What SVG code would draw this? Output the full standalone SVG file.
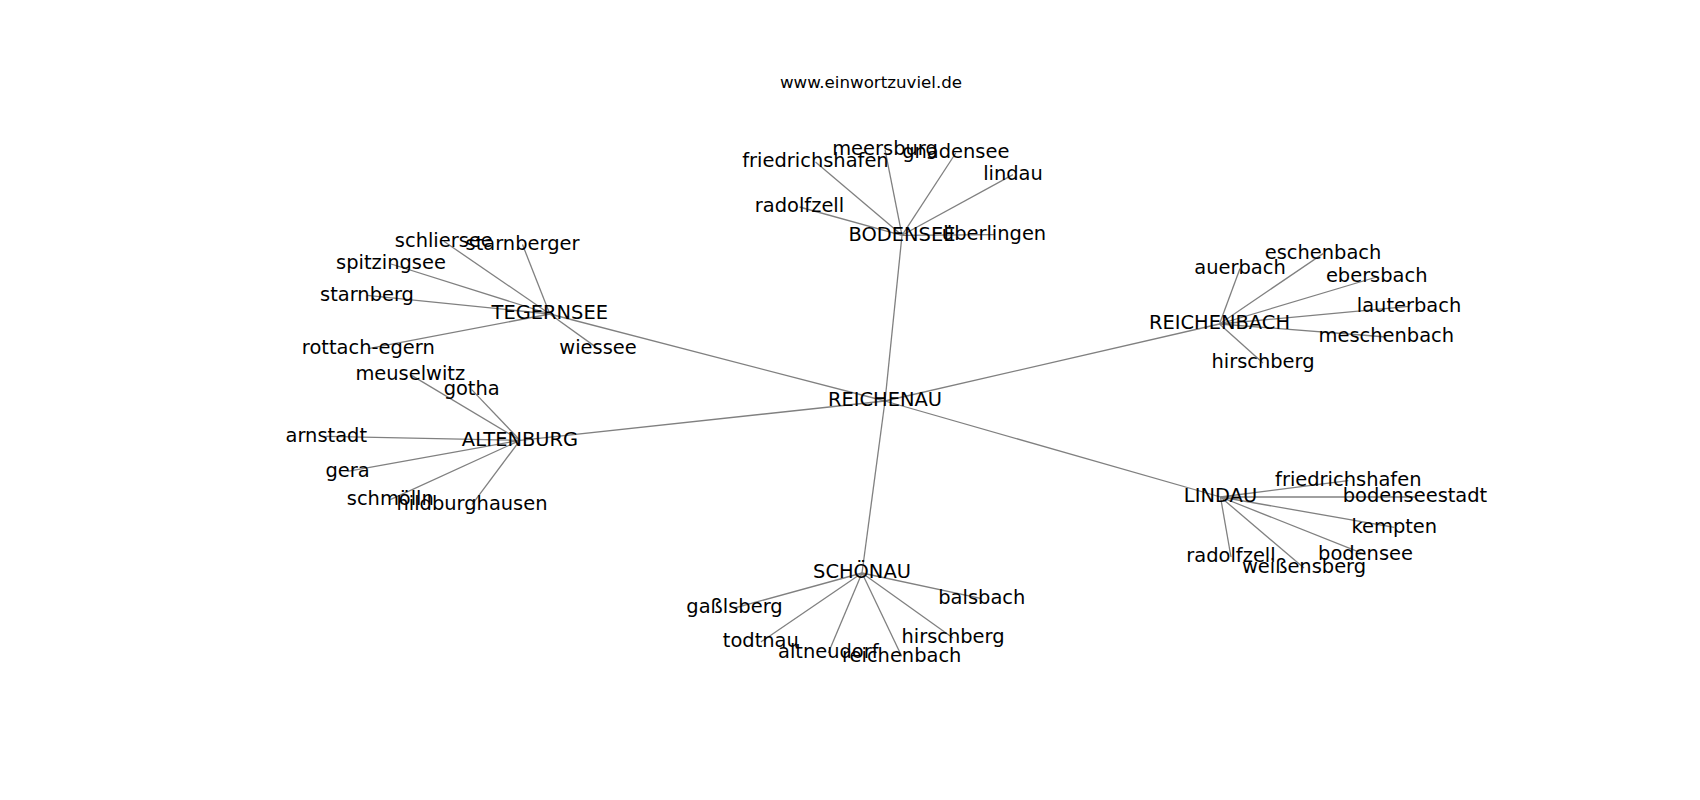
<svg xmlns="http://www.w3.org/2000/svg" width="1700" height="800" viewBox="0 0 1700 800">
<style>
.bg{fill:#ffffff}
.e line{stroke:#808080;stroke-width:1.3;fill:none}
.n text{font-family:"DejaVu Sans","Liberation Sans",sans-serif;font-size:19.44px;fill:#000000;text-anchor:middle}
.title{font-family:"DejaVu Sans","Liberation Sans",sans-serif;font-size:16.67px;fill:#000000;text-anchor:middle}
</style>
<rect class="bg" x="0" y="0" width="1700" height="800"/>
<text class="title" x="871" y="87.7">www.einwortzuviel.de</text>
<g id="connectors" class="e">
<line x1="885" y1="401" x2="902" y2="235.3"/>
<line x1="885" y1="401" x2="549.8" y2="314"/>
<line x1="885" y1="401" x2="520" y2="440.3"/>
<line x1="885" y1="401" x2="1219.5" y2="324"/>
<line x1="885" y1="401" x2="1220.5" y2="497"/>
<line x1="885" y1="401" x2="862" y2="573"/>
<line x1="902" y1="235.3" x2="815.5" y2="162"/>
<line x1="902" y1="235.3" x2="885" y2="149.6"/>
<line x1="902" y1="235.3" x2="955.8" y2="153"/>
<line x1="902" y1="235.3" x2="1013" y2="174.6"/>
<line x1="902" y1="235.3" x2="799.5" y2="207"/>
<line x1="902" y1="235.3" x2="994" y2="234.6"/>
<line x1="549.8" y1="314" x2="443.8" y2="241.3"/>
<line x1="549.8" y1="314" x2="522.5" y2="244.6"/>
<line x1="549.8" y1="314" x2="391" y2="264"/>
<line x1="549.8" y1="314" x2="367" y2="295.3"/>
<line x1="549.8" y1="314" x2="368.3" y2="348.6"/>
<line x1="549.8" y1="314" x2="598" y2="348.6"/>
<line x1="520" y1="440.3" x2="410.3" y2="374.6"/>
<line x1="520" y1="440.3" x2="471.7" y2="389.6"/>
<line x1="520" y1="440.3" x2="326.3" y2="436.3"/>
<line x1="520" y1="440.3" x2="347.5" y2="471.3"/>
<line x1="520" y1="440.3" x2="390.3" y2="499.6"/>
<line x1="520" y1="440.3" x2="472" y2="504.6"/>
<line x1="1219.5" y1="324" x2="1323" y2="253.6"/>
<line x1="1219.5" y1="324" x2="1240" y2="268.6"/>
<line x1="1219.5" y1="324" x2="1376.7" y2="277"/>
<line x1="1219.5" y1="324" x2="1409" y2="306.3"/>
<line x1="1219.5" y1="324" x2="1386.3" y2="337"/>
<line x1="1219.5" y1="324" x2="1263" y2="363"/>
<line x1="1220.5" y1="497" x2="1348.3" y2="480.6"/>
<line x1="1220.5" y1="497" x2="1415" y2="497"/>
<line x1="1220.5" y1="497" x2="1394.3" y2="527.3"/>
<line x1="1220.5" y1="497" x2="1365.5" y2="554.6"/>
<line x1="1220.5" y1="497" x2="1231" y2="557"/>
<line x1="1220.5" y1="497" x2="1304" y2="568"/>
<line x1="862" y1="573" x2="734.5" y2="608"/>
<line x1="862" y1="573" x2="760.8" y2="642"/>
<line x1="862" y1="573" x2="828.3" y2="653"/>
<line x1="862" y1="573" x2="901.7" y2="656.3"/>
<line x1="862" y1="573" x2="953" y2="638"/>
<line x1="862" y1="573" x2="981.8" y2="598.6"/>
</g>
<g class="n">
<g id="reichenau"><text x="885" y="406.4">REICHENAU</text></g>
<g id="bodensee"><text x="902" y="240.7">BODENSEE</text></g>
<g id="tegernsee"><text x="549.8" y="319.4">TEGERNSEE</text></g>
<g id="altenburg"><text x="520" y="445.7">ALTENBURG</text></g>
<g id="reichenbach"><text x="1219.5" y="329.4">REICHENBACH</text></g>
<g id="lindau"><text x="1220.5" y="502.4">LINDAU</text></g>
<g id="schoenau"><text x="862" y="578.4">SCHÖNAU</text></g>
<g id="bo-friedrichshafen"><text x="815.5" y="167.4">friedrichshafen</text></g>
<g id="bo-meersburg"><text x="885" y="155">meersburg</text></g>
<g id="bo-gnadensee"><text x="955.8" y="158.4">gnadensee</text></g>
<g id="bo-lindau"><text x="1013" y="180">lindau</text></g>
<g id="bo-radolfzell"><text x="799.5" y="212.4">radolfzell</text></g>
<g id="bo-ueberlingen"><text x="994" y="240">überlingen</text></g>
<g id="te-schliersee"><text x="443.8" y="246.7">schliersee</text></g>
<g id="te-starnberger"><text x="522.5" y="250">starnberger</text></g>
<g id="te-spitzingsee"><text x="391" y="269.4">spitzingsee</text></g>
<g id="te-starnberg"><text x="367" y="300.7">starnberg</text></g>
<g id="te-rottach-egern"><text x="368.3" y="354">rottach-egern</text></g>
<g id="te-wiessee"><text x="598" y="354">wiessee</text></g>
<g id="al-meuselwitz"><text x="410.3" y="380">meuselwitz</text></g>
<g id="al-gotha"><text x="471.7" y="395">gotha</text></g>
<g id="al-arnstadt"><text x="326.3" y="441.7">arnstadt</text></g>
<g id="al-gera"><text x="347.5" y="476.7">gera</text></g>
<g id="al-schmoelln"><text x="390.3" y="505">schmölln</text></g>
<g id="al-hildburghausen"><text x="472" y="510">hildburghausen</text></g>
<g id="rb-eschenbach"><text x="1323" y="259">eschenbach</text></g>
<g id="rb-auerbach"><text x="1240" y="274">auerbach</text></g>
<g id="rb-ebersbach"><text x="1376.7" y="282.4">ebersbach</text></g>
<g id="rb-lauterbach"><text x="1409" y="311.7">lauterbach</text></g>
<g id="rb-meschenbach"><text x="1386.3" y="342.4">meschenbach</text></g>
<g id="rb-hirschberg"><text x="1263" y="368.4">hirschberg</text></g>
<g id="li-friedrichshafen"><text x="1348.3" y="486">friedrichshafen</text></g>
<g id="li-bodenseestadt"><text x="1415" y="502.4">bodenseestadt</text></g>
<g id="li-kempten"><text x="1394.3" y="532.7">kempten</text></g>
<g id="li-bodensee"><text x="1365.5" y="560">bodensee</text></g>
<g id="li-radolfzell"><text x="1231" y="562.4">radolfzell</text></g>
<g id="li-weissensberg"><text x="1304" y="573.4">weißensberg</text></g>
<g id="sc-gasslsberg"><text x="734.5" y="613.4">gaßlsberg</text></g>
<g id="sc-todtnau"><text x="760.8" y="647.4">todtnau</text></g>
<g id="sc-altneudorf"><text x="828.3" y="658.4">altneudorf</text></g>
<g id="sc-reichenbach"><text x="901.7" y="661.7">reichenbach</text></g>
<g id="sc-hirschberg"><text x="953" y="643.4">hirschberg</text></g>
<g id="sc-balsbach"><text x="981.8" y="604">balsbach</text></g>
</g>
</svg>
